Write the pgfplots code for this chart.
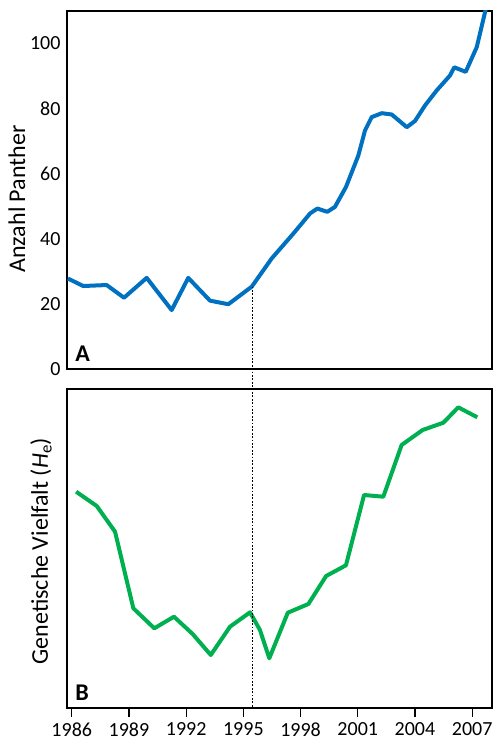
\documentclass[border=0pt]{standalone}
\usepackage{pgfplots}
\pgfplotsset{compat=1.18}
\usepackage{fontspec}
\setmainfont{Carlito}
\definecolor{pblue}{HTML}{0070C0}
\definecolor{pgreen}{HTML}{00B050}

\begin{document}
\begin{tikzpicture}
\useasboundingbox (-67pt,11pt) rectangle (430pt,-733pt);
\pgfplotsset{
  every axis/.append style={
    scale only axis, width=425pt, xmin=1985.75, xmax=2008.04,
    axis line style={line width=1.3pt},
    tick style={line width=1.3pt, black},
    /pgf/number format/assume math mode=true,
    /pgf/number format/1000 sep={},
    ticklabel style={font=\fontsize{20}{22}\selectfont},
    label style={font=\fontsize{24}{26}\selectfont},
  }
}
% A: Anzahl Panther
\begin{axis}[at={(0,0)}, anchor=north west, height=358pt, name=top,
  ymin=0, ymax=110, xtick=\empty, ytick={0,20,...,100},
  major tick length=0pt, yticklabel style={xshift=-3pt},
  ylabel={Anzahl Panther},
  ylabel style={at={(axis description cs:-0.118,0.475)}, anchor=center}]
\addplot[pblue, line width=4pt, line join=round, mark=none] table {
1985.80 27.8
1986.60 25.5
1987.83 25.8
1988.74 21.9
1989.93 28.0
1991.24 18.1
1992.11 28.0
1993.25 21.0
1994.21 19.9
1995.44 25.3
1996.49 34.0
1997.62 41.6
1998.50 47.8
1998.88 49.3
1999.40 48.3
1999.80 49.8
2000.38 55.9
2001.03 65.6
2001.38 73.3
2001.73 77.4
2002.26 78.6
2002.78 78.2
2003.57 74.3
2004.00 76.2
2004.53 81.0
2005.14 85.6
2005.84 90.2
2006.06 92.7
2006.66 91.3
2007.24 98.9
2007.71 110.5
};
\node[anchor=base west, inner sep=0pt, font=\bfseries\fontsize{24}{26}\selectfont]
  at (axis description cs:0.019,0.02) {A};
\coordinate (dtop) at (axis cs:1995.47,25.3);
\end{axis}
% B: Genetische Vielfalt
\begin{axis}[at={(0,-378pt)}, anchor=north west, height=319pt,
  ymin=0, ymax=319, ytick=\empty,
  xtick={1986,1989,...,2007}, xtick pos=lower,
  tick align=outside, major tick length=9pt,
  xticklabel style={yshift=-2pt},
  ylabel={Genetische Vielfalt (\textit{H}\textsubscript{e})},
  ylabel style={at={(axis description cs:-0.061,0.492)}, anchor=center}]
\addplot[pgreen, line width=4pt, line join=round, mark=none] table {
1986.23 216.3
1987.31 202.0
1988.27 176.3
1989.23 99.7
1990.33 79.7
1991.36 91.3
1992.34 74.0
1993.29 53.0
1994.30 81.3
1995.35 95.7
1995.87 78.0
1996.36 49.7
1997.33 95.3
1998.41 104.0
1999.34 132.0
2000.38 142.7
2001.33 213.0
2002.34 211.3
2003.30 263.0
2004.40 278.0
2005.49 285.3
2006.27 300.7
2007.27 290.7
};
\node[anchor=base west, inner sep=0pt, font=\bfseries\fontsize{24}{26}\selectfont]
  at (axis description cs:0.019,0.022) {B};
\coordinate (dbot) at (axis cs:1995.47,0);
\end{axis}
\draw[black, line width=1.6pt, dash pattern=on 1.7pt off 1.7pt] (dtop) -- (dtop |- dbot);
\end{tikzpicture}
\end{document}
